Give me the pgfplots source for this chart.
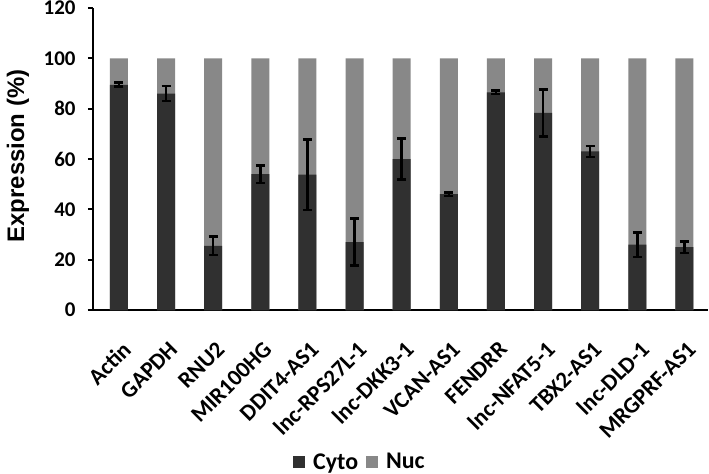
\documentclass[border=0pt]{standalone}
\usepackage{pgfplots}
\pgfplotsset{compat=1.18}
\usepackage{fontspec}
\setmainfont{Carlito}
\newfontfamily\arialfont{Liberation Sans}

\definecolor{cyto}{RGB}{48,48,48}
\definecolor{nuc}{RGB}{136,136,136}

\begin{document}
\begin{tikzpicture}
\begin{axis}[
at={(0,0)}, anchor=south west,
scale only axis,
width=615bp, height=302bp,
xmin=-0.55, xmax=12.5,
ymin=0, ymax=120,
ytick={0,20,...,120},
xtick=data,
xticklabels={Actin,GAPDH,RNU2,MIR100HG,DDIT4-AS1,lnc-RPS27L-1,lnc-DKK3-1,VCAN-AS1,FENDRR,lnc-NFAT5-1,TBX2-AS1,lnc-DLD-1,MRGPRF-AS1},
axis x line*=bottom,
axis y line*=left,
axis line style={line width=2.5bp, -},
x tick style={draw=none},
y tick style={line width=2bp, black},
major tick length=5bp,
tick align=outside,
/pgf/number format/assume math mode=true,
yticklabel style={font=\bfseries\fontsize{21}{21}\selectfont, xshift=-9bp},
xticklabel style={font=\bfseries\fontsize{23}{23}\selectfont, xshift=2bp, yshift=-25bp,
  rotate=45, anchor=north east, inner sep=0pt},
ylabel={Expression (\%)},
ylabel style={font=\arialfont\bfseries\fontsize{24}{24}\selectfont, at={(axis description cs:-0.122,0.51)}, anchor=center},
legend style={draw=none, fill=none, at={(axis description cs:0.434,-0.503)}, anchor=center,
  font=\bfseries\fontsize{24}{24}\selectfont, column sep=6bp},
legend columns=2,
legend image code/.code={\fill[#1] (0bp,-6bp) rectangle (12bp,6bp);},
]
% Nuc fills the bar up to 100
\addplot[ybar, bar width=18bp, bar shift=0pt, fill=nuc, draw=none, forget plot]
table {
x y
0 100
1 100
2 100
3 100
4 100
5 100
6 100
7 100
8 100
9 100
10 100
11 100
12 100
};
% Cyto share with error bars
\addplot[ybar, bar width=18bp, bar shift=0pt, fill=cyto, draw=none,
  error bars/.cd, y dir=both, y explicit,
  error bar style={line width=2.6bp, black},
  error mark options={rotate=90, mark size=4.5bp, line width=2.6bp, black}]
table[x=x, y=y, y error=e] {
x y e
0 89.5 0.8
1 86.0 3.0
2 25.5 3.6
3 54.0 3.5
4 53.8 14.0
5 27.0 9.3
6 60.0 8.1
7 46.0 0.7
8 86.5 0.7
9 78.3 9.3
10 63.0 2.2
11 26.0 4.9
12 25.0 2.3
};
\addlegendentry{Cyto}
\addlegendimage{fill=nuc, draw=none}
\addlegendentry{Nuc}
\end{axis}
\draw[line width=2.5bp] (-5bp,0) -- (0,0);
\pgfresetboundingbox
\path[use as bounding box] (-93bp,-164bp) rectangle (616bp,310bp);
\end{tikzpicture}
\end{document}
